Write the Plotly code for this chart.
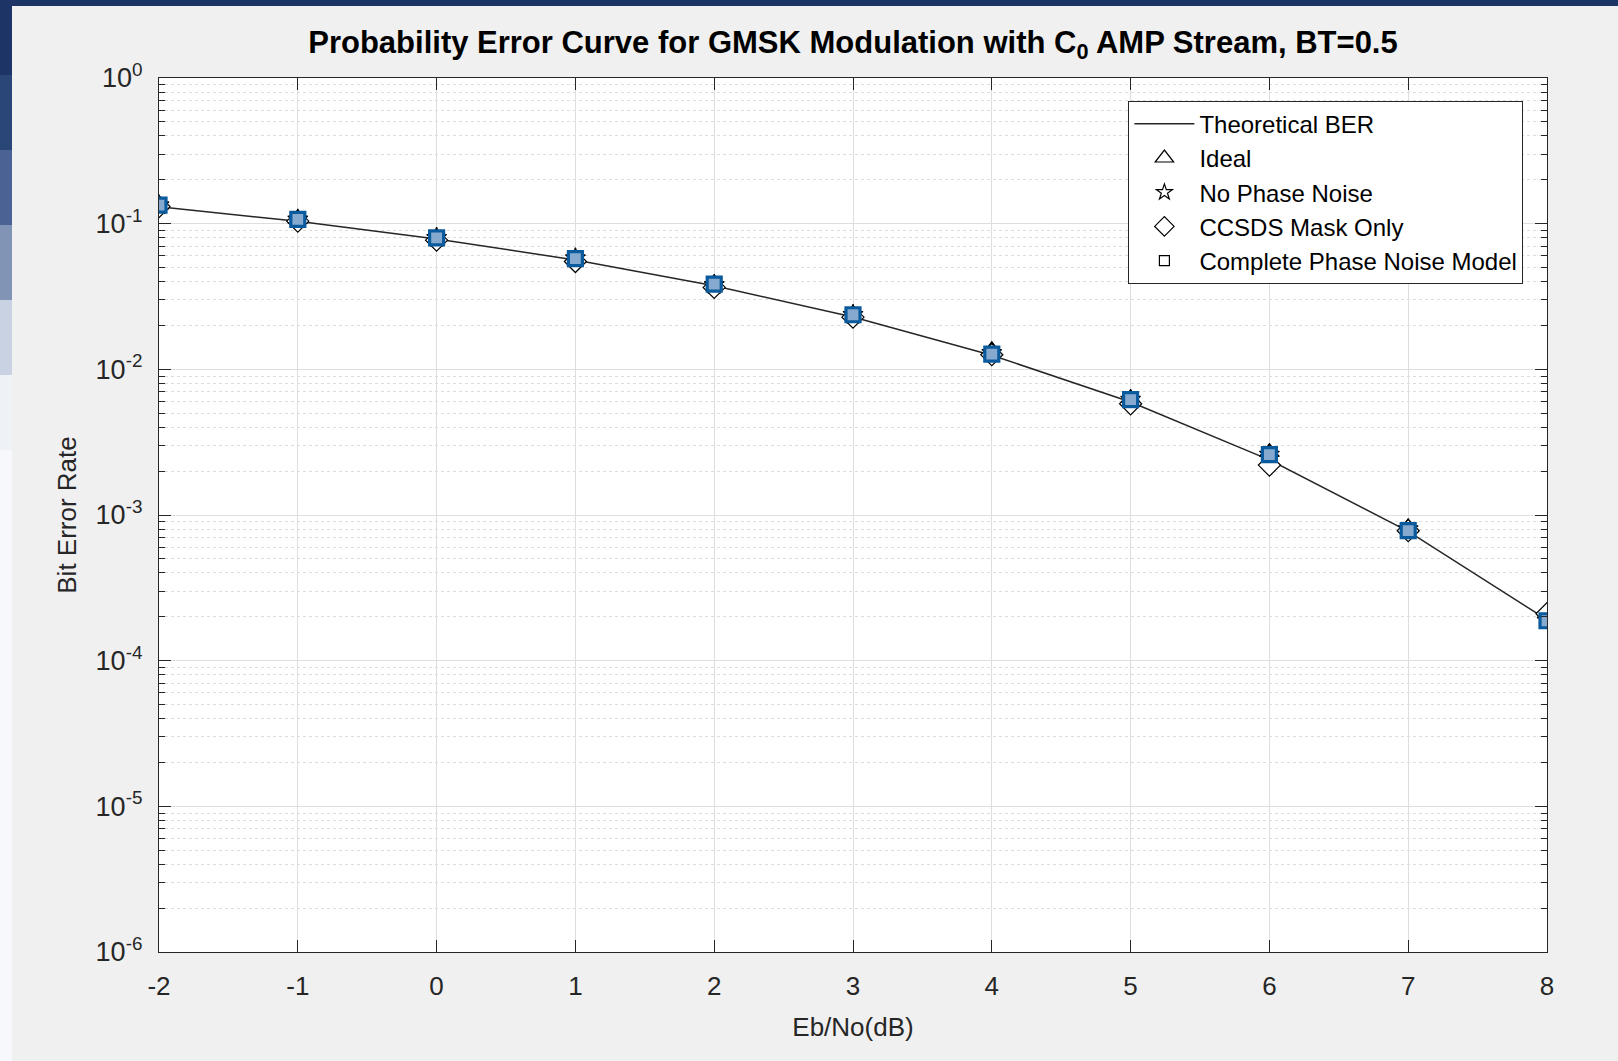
import plotly.graph_objects as go

# ---------------- data ----------------
ebno_db = [-2, -1, 0, 1, 2, 3, 4, 5, 6, 7, 8]
ber_theory = [0.1306, 0.1038, 0.0786, 0.0563, 0.0375, 0.0229, 0.0125, 0.00597, 0.00239, 0.000773, 0.000191]
ber_ideal = [0.135, 0.108, 0.081, 0.058, 0.039, 0.0240, 0.0135, 0.0063, 0.0027, 0.00082, 0.00021]
ber_no_pn = [0.134, 0.107, 0.080, 0.058, 0.038, 0.0237, 0.0130, 0.0062, 0.0026, 0.00080, 0.00020]
ber_ccsds = [0.131, 0.104, 0.077, 0.055, 0.0365, 0.0228, 0.0126, 0.0058, 0.0022, 0.00078, 0.00021]
ber_complete = [0.134, 0.107, 0.080, 0.0575, 0.0385, 0.0237, 0.0127, 0.0062, 0.0026, 0.00078, 0.000188]

series_names = ["Theoretical BER", "Ideal", "No Phase Noise", "CCSDS Mask Only", "Complete Phase Noise Model"]
y_exponents = [0, -1, -2, -3, -4, -5, -6]
x_ticks = [-2, -1, 0, 1, 2, 3, 4, 5, 6, 7, 8]
x_ticklabels = ["-2", "-1", "0", "1", "2", "3", "4", "5", "6", "7", "8"]
minor_mult = [2, 3, 4, 5, 6, 7, 8, 9]

# ---------------- figure ----------------
W, H = 1618, 1061
ML, MR, MT, MB = 159, 71, 78, 109
FONT = "Liberation Sans, Arial, sans-serif"

fig = go.Figure()

# theoretical line
fig.add_trace(go.Scatter(x=ebno_db, y=ber_theory, mode="lines", name=series_names[0],
                         line=dict(color="#262626", width=1.5), showlegend=False))
# measured series (plot appearance)
fig.add_trace(go.Scatter(x=ebno_db, y=ber_ideal, mode="markers", name=series_names[1], showlegend=False,
                         marker=dict(symbol="triangle-up", size=17, color="#222222",
                                     line=dict(color="#000000", width=1.2))))
fig.add_trace(go.Scatter(x=ebno_db, y=ber_no_pn, mode="markers", name=series_names[2], showlegend=False,
                         marker=dict(symbol="star-open", size=15, color="#000000", line=dict(width=1.2))))
fig.add_trace(go.Scatter(x=ebno_db, y=ber_ccsds, mode="markers", name=series_names[3], showlegend=False,
                         marker=dict(symbol="diamond", size=17, color="white",
                                     line=dict(color="#000000", width=1.2))))
fig.add_trace(go.Scatter(x=ebno_db, y=ber_complete, mode="markers", name=series_names[4], showlegend=False,
                         marker=dict(symbol="square", size=14, color="#86a9cf",
                                     line=dict(color="#0a5a9e", width=3.2))))

# legend-only entries (black open markers, as in the reference legend)
fig.add_trace(go.Scatter(x=[None], y=[None], mode="lines", name=series_names[0],
                         line=dict(color="#262626", width=1.5)))
legend_syms = ["triangle-up-open", "star-open", "diamond-open", "square-open"]
legend_sizes = [16, 12, 15, 10]
for nm, sym, sz in zip(series_names[1:], legend_syms, legend_sizes):
    fig.add_trace(go.Scatter(x=[None], y=[None], mode="markers", name=nm,
                             marker=dict(symbol=sym, size=sz, color="#000000", line=dict(width=1.2))))

y_tickvals = [10.0 ** e for e in y_exponents]
y_ticktext = ["10<sup>%d</sup>" % e for e in y_exponents]
y_minor = [m * 10.0 ** e for e in y_exponents[1:] for m in minor_mult]

fig.update_layout(
    width=W, height=H,
    margin=dict(l=ML, r=MR, t=MT, b=MB, pad=0),
    paper_bgcolor="#f0f0f0",
    plot_bgcolor="white",
    font=dict(family=FONT, size=24, color="#262626"),
    title=dict(text="<b>Probability Error Curve for GMSK Modulation with C<sub>0</sub> AMP Stream, BT=0.5</b>",
               x=(ML + (W - ML - MR) / 2) / W, xanchor="center", y=1 - 42 / H, yanchor="middle",
               font=dict(family=FONT, size=31, color="#000000")),
    legend=dict(x=0.983, y=0.974, xanchor="right", yanchor="top",
                bgcolor="white", bordercolor="#262626", borderwidth=1,
                font=dict(family=FONT, size=24, color="#000000"),
                itemwidth=60, tracegroupgap=0),
    xaxis=dict(range=[-2, 8], tickvals=x_ticks, ticktext=x_ticklabels,
               ticks="inside", ticklen=12, tickcolor="#262626", ticklabelstandoff=11,
               showline=True, linecolor="#262626", linewidth=1.3, mirror="ticks",
               showgrid=True, gridcolor="#dedede", gridwidth=1, zeroline=False,
               tickfont=dict(size=26, color="#262626"),
               title=dict(text="Eb/No(dB)", font=dict(size=26, color="#262626"), standoff=17)),
    yaxis=dict(type="log", range=[-6, 0], tickvals=y_tickvals, ticktext=y_ticktext,
               ticks="inside", ticklen=12, tickcolor="#262626", ticklabelstandoff=10,
               showline=True, linecolor="#262626", linewidth=1.3, mirror="ticks",
               showgrid=True, gridcolor="#dedede", gridwidth=1, zeroline=False,
               tickfont=dict(size=27, color="#262626"),
               minor=dict(tickvals=y_minor, ticks="inside", ticklen=6, tickcolor="#262626",
                          showgrid=True, gridcolor="#dcdcdc", griddash="dot", gridwidth=1),
               title=dict(text="Bit Error Rate", font=dict(size=26, color="#262626"), standoff=11)),
)

# slide background strips (blue) visible at top and left edges of the screenshot
pw = W - ML - MR
ph = H - MT - MB
def px_x(px):
    return (px - ML) / pw
def px_y(py):
    return 1 - (py - MT) / ph
fig.add_shape(type="rect", xref="paper", yref="paper", x0=px_x(0), x1=px_x(W), y0=px_y(6), y1=px_y(0),
              fillcolor="#1d3566", line=dict(width=0), layer="below")
left_cols = ["#1d3566", "#2a4578", "#4a6394", "#8294b6", "#c9d2e2", "#eef1f6"]
seg = 75
for i, c in enumerate(left_cols):
    fig.add_shape(type="rect", xref="paper", yref="paper", x0=px_x(0), x1=px_x(12),
                  y0=px_y(seg * (i + 1)), y1=px_y(seg * i), fillcolor=c, line=dict(width=0), layer="below")
fig.add_shape(type="rect", xref="paper", yref="paper", x0=px_x(0), x1=px_x(12),
              y0=px_y(H), y1=px_y(seg * len(left_cols)), fillcolor="#f7f8fb", line=dict(width=0), layer="below")

fig.write_html("out.html")
